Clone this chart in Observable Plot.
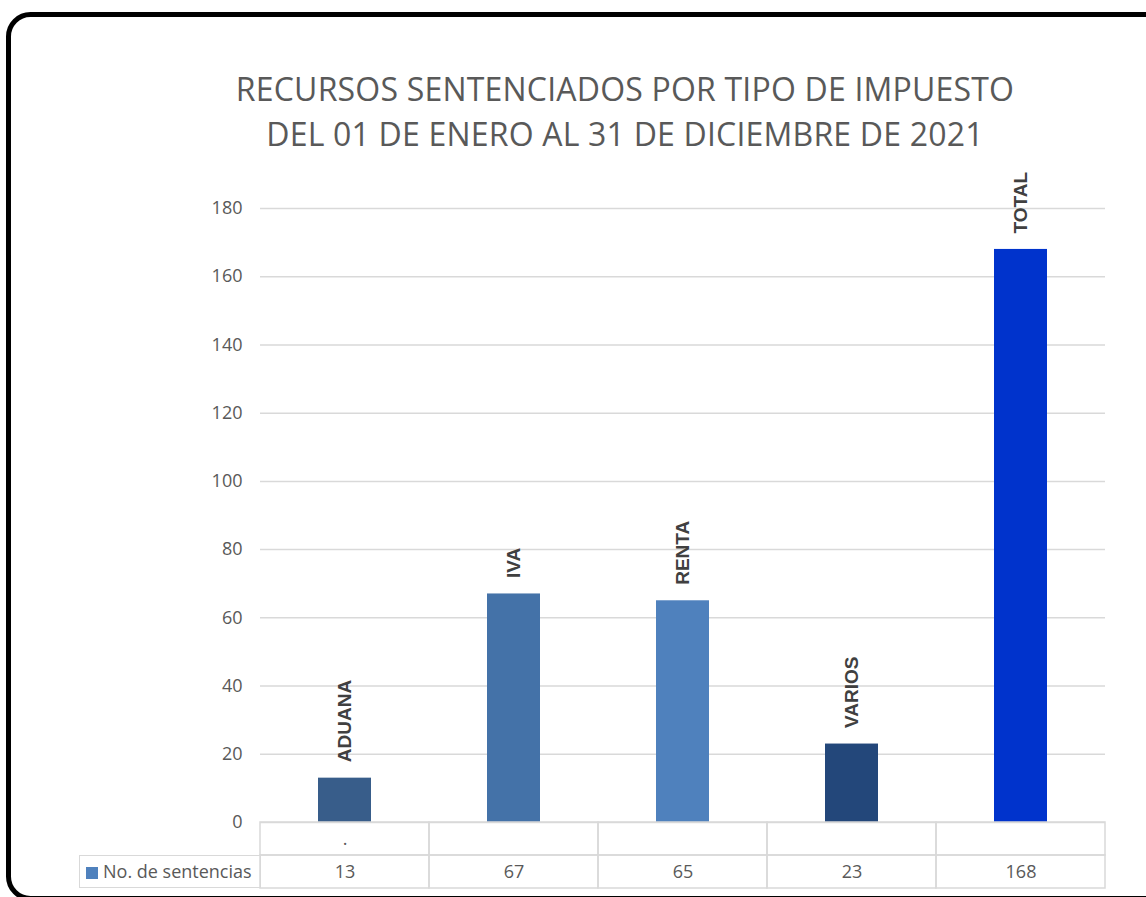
<!DOCTYPE html>
<html>
<head>
<meta charset="utf-8">
<script src="https://cdn.jsdelivr.net/npm/d3@7"></script>
<script src="https://cdn.jsdelivr.net/npm/@observablehq/plot@0.6"></script>
<style>
  html, body { margin: 0; padding: 0; background: #fff; overflow: hidden; }
  #wrap { position: relative; width: 1146px; height: 897px; overflow: hidden; background: #fff; font-family: "Open Sans", sans-serif; }
  #frame { position: absolute; left: 0; top: 0; }
  #title { position: absolute; left: 625px; top: 66px; transform: translateX(-50%); white-space: nowrap; text-align: center; color: #595959; font-size: 32px; line-height: 45px; letter-spacing: 0.2px; }
  #chart { position: absolute; left: 0; top: 0; }
  #legend { position: absolute; left: 79px; top: 855px; width: 182px; height: 33px; border: 1.5px solid #d9d9d9; box-sizing: border-box; color: #595959; font-size: 18px; line-height: 30px; white-space: nowrap; }
  #legend .sw { display: inline-block; width: 12px; height: 12px; background: #4f81bd; margin-left: 6px; margin-right: 5px; vertical-align: -1px; }
</style>
</head>
<body>
<div id="wrap">
  <svg id="frame" width="1146" height="897"><rect x="8.5" y="14.5" width="1165" height="884" rx="22" ry="22" fill="none" stroke="#000" stroke-width="5"/></svg>
  <div id="chart"></div>
  <div id="title">RECURSOS SENTENCIADOS POR TIPO DE IMPUESTO<br>DEL 01 DE ENERO AL 31 DE DICIEMBRE DE 2021</div>
  <div id="legend"><span class="sw"></span>No. de sentencias</div>
</div>
<script>
// ---- data ----
const categories = ["ADUANA", "IVA", "RENTA", "VARIOS", "TOTAL"];
const values = [13, 67, 65, 23, 168];
const tableLabels = [".", "", "", "", ""];
const yTicks = [0, 20, 40, 60, 80, 100, 120, 140, 160, 180];
const seriesName = "No. de sentencias";
// ---- styles ----
const barColors = ["#385d8a", "#4472a8", "#4f81bd", "#23477a", "#0033cc"];

const data = categories.map((c, i) => ({cat: c, value: values[i], label: tableLabels[i], color: barColors[i]}));

const W = 1146, H = 897, mTop = 208, mBottom = 75;
const pxPerUnit = (H - mTop - mBottom) / 180;
const rowH = 33 / pxPerUnit;

const chart = Plot.plot({
  width: W,
  height: H,
  marginLeft: 260,
  marginRight: 41,
  marginTop: mTop,
  marginBottom: mBottom,
  style: {background: "transparent", fontFamily: "Open Sans, sans-serif", fontSize: "18px", color: "#595959", overflow: "visible"},
  x: {domain: categories, padding: 0, axis: null},
  y: {domain: [0, 180], ticks: yTicks, tickSize: 0, tickPadding: 18, label: null},
  color: {type: "identity"},
  marks: [
    Plot.ruleY(yTicks, {stroke: "#d9d9d9", strokeWidth: 1.5}),
    Plot.barY(data, {x: "cat", y: "value", fill: "color", insetLeft: 58, insetRight: 58}),
    Plot.text(data, {x: "cat", y: "value", text: "cat", rotate: -90, textAnchor: "start", dy: -16,
      fontWeight: "bold", fontSize: 19, fontFamily: "Liberation Sans, Arial, sans-serif", fill: "#404040"}),
    // data table
    Plot.barY(data, {x: "cat", y1: -rowH, y2: 0, fill: "none", stroke: "#d9d9d9", strokeWidth: 1.5}),
    Plot.barY(data, {x: "cat", y1: -2 * rowH, y2: -rowH, fill: "none", stroke: "#d9d9d9", strokeWidth: 1.5}),
    Plot.text(data, {x: "cat", y: -rowH / 2, text: "label", fill: "#595959", fontSize: 18}),
    Plot.text(data, {x: "cat", y: -1.5 * rowH, text: d => String(d.value), fill: "#595959", fontSize: 18})
  ]
});
document.getElementById("chart").appendChild(chart);
</script>
</body>
</html>
